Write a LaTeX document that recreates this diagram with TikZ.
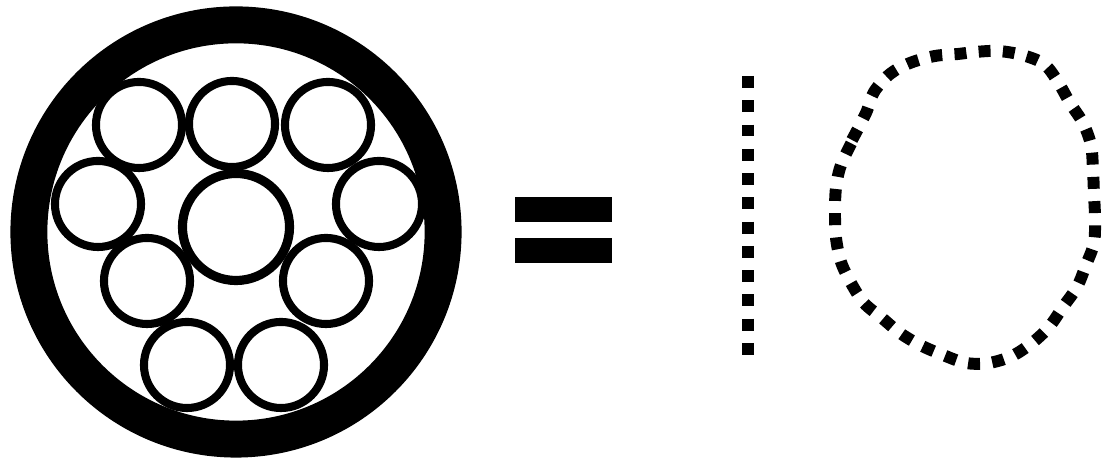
\documentclass[tikz,border=0pt]{standalone}
\usepackage{tikz}
\usetikzlibrary{positioning}

\begin{document}
\begin{tikzpicture}[
  x=0.01cm, y=-0.01cm,
  jacket/.style={circle, draw, line width=10.5pt, minimum size=41.4mm, inner sep=0pt},
  strand/.style={circle, draw, fill=white, line width=2.3pt, minimum size=8.6mm, inner sep=0pt},
  core/.style={circle, draw, fill=white, line width=2.6pt, minimum size=10.7mm, inner sep=0pt},
  bar/.style={fill, minimum width=9.7mm, minimum height=2.5mm, inner sep=0pt},
  dotline/.style={line width=3.4pt, dash pattern=on 3.4pt off 3.5pt},
]
\useasboundingbox (0,0) rectangle (1102,462);

% Cable - strands inside the jacket
\node[strand] (s1) at (139,125) {};
\node[strand] (s2) at (232,124) {};
\node[strand] (s3) at (328,125) {};
\node[strand] (s4) at (98,204) {};
\node[strand] (s5) at (379,204) {};
\node[strand] (s6) at (147,281) {};
\node[strand] (s7) at (326,281) {};
\node[strand] (s8) at (187,365) {};
\node[strand] (s9) at (281,365) {};
\node[core] (c0) at (236,227) {};
\node[jacket] (jk) at (236,232) {};

% Equals sign
\node[bar] (eqtop) at (563.5,209.5) {};
\node[bar] (eqbot) at (563.5,250.5) {};

% Dotted "1"
\coordinate (onetop) at (748,76);
\coordinate (onebot) at (748,355);
\draw[dotline] (onetop) -- (onebot);

% Dotted "0"
\draw[dotline] plot[smooth, tension=0.55] coordinates {
  (852,140) (866,113) (874,92) (890,74) (910,63) (935,56) (958,54)
  (975,52) (998,51) (1022,55) (1044,64) (1058,82) (1070,103) (1083,123)
  (1091,145) (1093,170) (1094,194) (1095,218) (1094,243) (1086,265)
  (1077,287) (1063,307) (1049,327) (1032,343) (1012,356) (989,363)
  (966,363) (943,355) (920,345) (900,333) (882,318) (864,303) (851,283)
  (841,262) (836,238) (835,213) (836,188) (841,165) (855,136)};
\end{tikzpicture}
\end{document}
